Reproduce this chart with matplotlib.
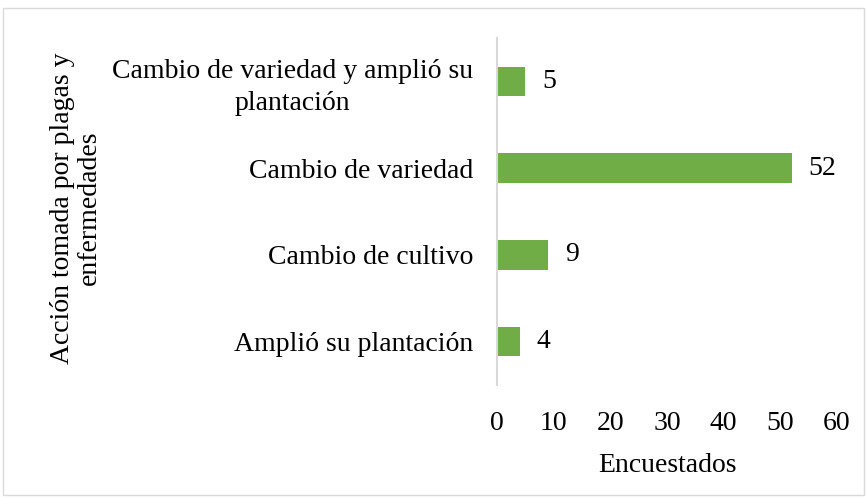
import matplotlib.pyplot as plt
from matplotlib.patches import Rectangle

categorias = ['Amplió su plantación', 'Cambio de cultivo', 'Cambio de variedad',
              'Cambio de variedad y amplió su\nplantación']
encuestados = [4, 9, 52, 5]
xticks = [0, 10, 20, 30, 40, 50, 60]

plt.rcParams['font.family'] = ['Liberation Serif', 'DejaVu Serif']

fig = plt.figure(figsize=(8.68, 4.99), dpi=100)
ax = fig.add_axes([0.5726, 0.2285, 0.3917, 0.6953])

ypos = list(range(len(categorias)))
ax.barh(ypos, encuestados, height=0.34, color='#70AD47')
for y, v in zip(ypos, encuestados):
    ax.annotate(str(v), (v, y), xytext=(12, 0), textcoords='offset points',
                va='center', ha='left', fontsize=20)

ax.set_xlim(0, 60)
ax.set_ylim(-0.5, 3.5)
ax.set_xticks(xticks)
ax.set_yticks(ypos)
ax.set_yticklabels(categorias, multialignment='center', linespacing=1.35)
ax.tick_params(axis='both', length=0, labelsize=20)
ax.tick_params(axis='x', pad=19)
ax.tick_params(axis='y', pad=17)
for s in ['top', 'right', 'bottom']:
    ax.spines[s].set_visible(False)
ax.spines['left'].set_color('#D9D9D9')
ax.spines['left'].set_linewidth(1.5)

ax.set_xlabel('Encuestados', fontsize=20, labelpad=12)
fig.text(0.088, 0.583, 'Acción tomada por plagas y\nenfermedades', rotation=90,
         ha='center', va='center', fontsize=20, multialignment='center',
         linespacing=1.1)

fig.patches.append(Rectangle((0.004, 0.008), 0.991, 0.975, transform=fig.transFigure,
                             fill=False, edgecolor='#D9D9D9', linewidth=1))

fig.savefig('out.png', dpi=100)
